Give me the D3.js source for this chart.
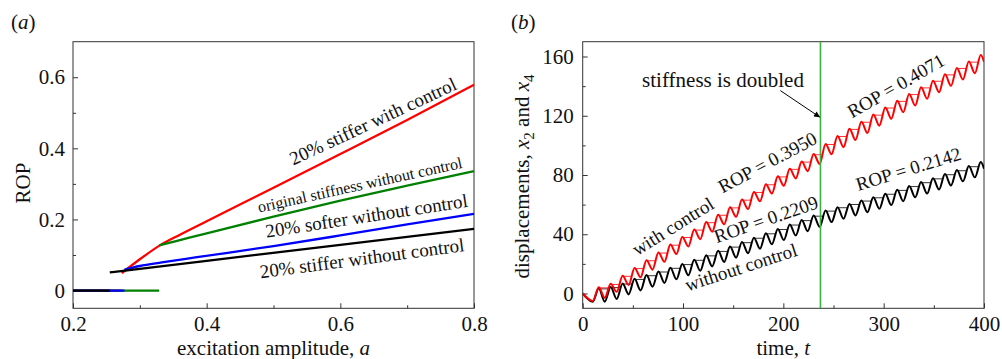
<!DOCTYPE html>
<html><head><meta charset="utf-8">
<script src="https://cdn.jsdelivr.net/npm/d3@7"></script>
<style>
html,body{margin:0;padding:0;background:#fff;}
svg{display:block;}
</style></head><body>
<svg id="c" width="1002" height="359"></svg>
<script>
// ---------- Panel (a) data: ROP vs excitation amplitude ----------
const aTicksX = [0.2, 0.4, 0.6, 0.8];
const aMinorX = [0.3, 0.5, 0.7];
const aTicksY = [0, 0.2, 0.4, 0.6];
const aMinorY = [0.1, 0.3, 0.5];

// zero (stuck) branches
const zeroRed   = [[0.2, 0], [0.273, 0]];
const zeroGreen = [[0.2, 0], [0.329, 0]];
const zeroBlue  = [[0.2, 0], [0.277, 0]];
const zeroBlack = [[0.2, 0], [0.255, 0]];

// drilling branches
const stiffWithCtrl   = [[0.273,0.049],[0.3,0.088],[0.33,0.127],[0.36,0.157],[0.4,0.195],[0.5,0.289],[0.6,0.384],[0.7,0.48],[0.8,0.579]];
const originalNoCtrl  = [[0.329,0.127],[0.35,0.137],[0.4,0.161],[0.5,0.208],[0.6,0.253],[0.7,0.295],[0.8,0.336]];
const softerNoCtrl    = [[0.277,0.059],[0.3,0.069],[0.333,0.079],[0.383,0.093],[0.5,0.125],[0.6,0.155],[0.7,0.186],[0.8,0.216]];
const stifferNoCtrl   = [[0.255,0.051],[0.4,0.0836],[0.6,0.1286],[0.8,0.1736]];

// ---------- Panel (b) data: displacements vs time (extrema) ----------
const bTicksX = [0, 100, 200, 300, 400];
const bMinorX = [50, 150, 250, 350];
const bTicksY = [0, 40, 80, 120, 160];
const bMinorY = [20, 60, 100, 140];
const tSwitch = 237;

const tB = [0,10.1,16.0,22.0,27.9,33.9,39.8,45.8,51.7,57.7,63.6,69.6,75.5,81.5,87.4,93.4,99.3,105.3,111.2,117.2,123.1,129.1,135.0,141.0,146.9,152.9,158.8,164.8,170.7,176.7,182.6,188.6,194.5,200.5,206.4,212.4,218.3,224.3,230.2,236.2,242.1,248.1,254.0,260.0,265.9,271.9,277.8,283.8,289.7,295.7,301.6,307.6,313.5,319.5,325.4,331.4,337.3,343.3,349.2,355.2,361.1,367.1,373.0,379.0,384.9,390.9,396.8,400];
const withCtrl = [0,-5.0,4.2,-2.9,6.5,1.1,12.0,5.8,17.2,10.9,22.5,16.1,27.7,21.4,33.0,26.6,38.2,31.7,43.2,36.7,48.2,41.7,53.2,46.7,58.2,51.8,63.4,57.0,68.6,62.2,73.8,67.5,79.1,72.7,84.2,77.7,89.1,82.6,94.1,87.5,101.0,94.0,106.4,98.8,111.2,103.6,116.0,108.4,120.8,113.3,125.6,117.9,130.1,122.4,134.7,126.9,139.2,131.5,143.7,135.9,148.0,140.2,152.3,144.4,156.6,148.7,161.0,156.5];
const withoutCtrl = [0,-5.5,3.5,-5.5,4.4,-3.7,6.8,-0.6,9.9,2.1,12.4,4.6,14.9,7.1,17.4,9.6,19.9,12.3,22.8,15.3,25.8,18.3,28.8,21.3,31.7,24.2,34.7,27.2,37.7,30.2,40.7,33.2,43.6,36.1,46.6,39.1,49.6,42.1,52.6,45.0,56.0,48.2,58.3,50.4,60.5,52.7,62.8,54.9,65.0,57.2,67.4,59.7,70.0,62.3,72.6,64.9,75.2,67.5,77.8,70.2,80.6,72.9,83.3,75.7,86.0,78.4,88.8,84.3];

// ---------- drawing ----------
const FONT = '"Liberation Serif","Times New Roman",Times,serif';
const svg = d3.select("#c").attr("font-family", FONT);
svg.append("defs").append("marker")
  .attr("id","arr").attr("viewBox","0 0 10 10").attr("refX",10).attr("refY",5)
  .attr("markerWidth",9).attr("markerHeight",6).attr("markerUnits","userSpaceOnUse")
  .attr("orient","auto")
  .append("path").attr("d","M0,0 L10,5 L0,10 z").attr("fill","#000");

function axes(x, y, xMaj, xMin, yMaj, yMin, xFmt, yFmt, ypad) {
  const [x0, x1] = x.range(), [y0, y1] = y.range();
  const g = svg.append("g");
  const style = s => { s.select(".domain").remove(); s.selectAll("line").attr("stroke","#333"); s.selectAll("text").attr("fill","#111"); s.attr("font-family", FONT).attr("font-size", 21); };
  g.append("g").attr("transform",`translate(0,${y0})`).call(d3.axisBottom(x).tickValues(xMaj).tickSize(-5).tickPadding(7.5).tickFormat(xFmt)).call(style);
  g.append("g").attr("transform",`translate(0,${y0})`).call(d3.axisBottom(x).tickValues(xMin).tickSize(-3).tickFormat("")).call(style);
  g.append("g").attr("transform",`translate(${x0},0)`).call(d3.axisLeft(y).tickValues(yMaj).tickSize(-5).tickPadding(ypad).tickFormat(yFmt)).call(style);
  g.append("g").attr("transform",`translate(${x0},0)`).call(d3.axisLeft(y).tickValues(yMin).tickSize(-3).tickFormat("")).call(style);
  g.append("rect").attr("x",x0).attr("y",y1).attr("width",x1-x0).attr("height",y0-y1)
    .attr("fill","none").attr("stroke","#333").attr("stroke-width",1);
}

function rotText(x, y, ang, str, size) {
  svg.append("text").attr("transform",`translate(${x},${y}) rotate(${ang})`)
    .attr("text-anchor","middle").attr("dy","0.33em").attr("font-size",size).attr("fill","#111").text(str);
}

// ----- panel (a)
const xa = d3.scaleLinear().domain([0.2,0.8]).range([73,474]);
const ya = d3.scaleLinear().domain([-0.05,0.7]).range([308.3,41.7]);
axes(xa, ya, aTicksX, aMinorX, aTicksY, aMinorY, d => d3.format(".1f")(d), d => d===0 ? "0" : d3.format(".1f")(d), 8);

const la = d3.line().x(d=>xa(d[0])).y(d=>ya(d[1])).curve(d3.curveMonotoneX);
const ga = svg.append("g").attr("fill","none").attr("stroke-width",2.3);
[[zeroRed,"#ff0000"],[zeroGreen,"#008000"],[zeroBlue,"#0000ff"],[zeroBlack,"#000"],
 [stiffWithCtrl,"#ff0000"],[originalNoCtrl,"#008000"],[softerNoCtrl,"#0000ff"],[stifferNoCtrl,"#000"]]
 .forEach(([d,c]) => ga.append("path").attr("d", la(d)).attr("stroke", c));

rotText(373,121.5,-25,"20% stiffer with control",19);
rotText(360,185,-12.4,"original stiffness without control",16);
rotText(366.5,216,-8.7,"20% softer without control",19);
rotText(362,258.5,-7.6,"20% stiffer without control",19);

svg.append("text").attr("x",273.5).attr("y",355).attr("text-anchor","middle").attr("font-size",21).attr("fill","#111")
  .call(t=>{t.append("tspan").text("excitation amplitude, "); t.append("tspan").attr("font-style","italic").text("a");});
svg.append("text").attr("transform","translate(30,183) rotate(-90)").attr("text-anchor","middle").attr("font-size",21).attr("fill","#111").text("ROP");
svg.append("text").attr("x",11).attr("y",29).attr("font-size",21).attr("fill","#111")
  .call(t=>{t.append("tspan").text("("); t.append("tspan").attr("font-style","italic").text("a"); t.append("tspan").text(")");});

// ----- panel (b)
const xb = d3.scaleLinear().domain([0,400]).range([582.7,984]);
const yb = d3.scaleLinear().domain([-10,170]).range([308.3,41.7]);
axes(xb, yb, bTicksX, bMinorX, bTicksY, bMinorY, d3.format("d"), d3.format("d"), 9);

svg.append("clipPath").attr("id","cb").append("rect")
  .attr("x",582.7).attr("y",41.7).attr("width",984-582.7).attr("height",308.3-41.7);
const gb = svg.append("g").attr("clip-path","url(#cb)").attr("fill","none");
const lb = d3.line().x(d=>xb(d[0])).y(d=>yb(d[1])).curve(d3.curveMonotoneX);

function stairs(vals) {
  // thin stick-slip trace: holds each peak level until the next rise reaches it
  const segs = [];
  for (let i = 2; i + 2 < vals.length; i += 2) {
    const lev = vals[i], tr = vals[i+1], pk = vals[i+2];
    if (pk <= lev) continue;
    const f = (lev - tr) / (pk - tr);
    const tc = tB[i+1] + Math.acos(1 - 2*f) / Math.PI * (tB[i+2] - tB[i+1]);
    segs.push([[tB[i], lev - 0.4], [tc, lev - 0.4]]);
  }
  return segs;
}
[[withoutCtrl,"#000"],[withCtrl,"#ff0000"]].forEach(([v,c]) => {
  stairs(v).forEach(s => gb.append("path").attr("d", d3.line().x(d=>xb(d[0])).y(d=>yb(d[1]))(s)).attr("stroke",c).attr("stroke-width",0.8));
  gb.append("path").attr("d", lb(tB.map((t,i)=>[t, v[i]]))).attr("stroke", c).attr("stroke-width", 2);
});

svg.append("line").attr("x1",xb(tSwitch)).attr("x2",xb(tSwitch)).attr("y1",yb.range()[0]).attr("y2",yb.range()[1])
  .attr("stroke","#3cb043").attr("stroke-width",1.6);

svg.append("text").attr("x",723).attr("y",86.5).attr("text-anchor","middle").attr("font-size",21).attr("fill","#111").text("stiffness is doubled");
svg.append("line").attr("x1",xb(197)).attr("y1",yb(137)).attr("x2",xb(236.5)).attr("y2",yb(119))
  .attr("stroke","#000").attr("stroke-width",1).attr("marker-end","url(#arr)");

rotText(673,226.5,-32,"with control",19);
rotText(767.5,162.5,-28,"ROP = 0.3950",19);
rotText(766,219.5,-19,"ROP = 0.2209",19);
rotText(741,267.5,-18,"without control",19);
rotText(896,86,-30,"ROP = 0.4071",19);
rotText(908.5,169,-17,"ROP = 0.2142",19);

svg.append("text").attr("x",783.3).attr("y",355).attr("text-anchor","middle").attr("font-size",21).attr("fill","#111")
  .call(t=>{t.append("tspan").text("time, "); t.append("tspan").attr("font-style","italic").text("t");});
svg.append("text").attr("transform","translate(529,176.5) rotate(-90)").attr("text-anchor","middle").attr("font-size",21).attr("fill","#111")
  .call(t=>{
    t.append("tspan").text("displacements, ");
    t.append("tspan").attr("font-style","italic").text("x");
    t.append("tspan").attr("font-size",15).attr("dy",5).text("2");
    t.append("tspan").attr("dy",-5).text(" and ");
    t.append("tspan").attr("font-style","italic").text("x");
    t.append("tspan").attr("font-size",15).attr("dy",5).text("4");
  });
svg.append("text").attr("x",511).attr("y",29).attr("font-size",21).attr("fill","#111")
  .call(t=>{t.append("tspan").text("("); t.append("tspan").attr("font-style","italic").text("b"); t.append("tspan").text(")");});
</script>
</body></html>
